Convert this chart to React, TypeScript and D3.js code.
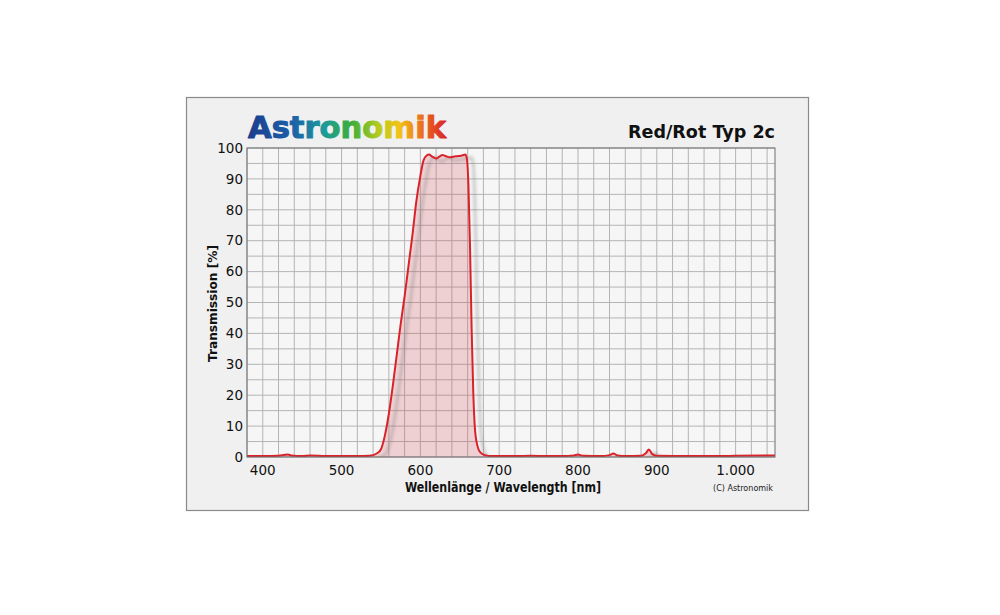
import React from "react";
import * as d3 from "d3";

const wavelengths = [380, 400, 420, 428, 432, 436, 450, 460, 480, 500, 520, 535, 540, 545, 550, 555, 560, 565, 570, 575, 580, 585, 590, 595, 600, 604, 608, 611, 615, 620, 624, 628, 632, 637, 642, 648, 653, 657, 659, 661, 663, 665, 667, 669, 672, 676, 682, 690, 700, 720, 740, 760, 780, 795, 800, 806, 830, 840, 845, 850, 860, 880, 886, 890, 894, 900, 940, 980, 1000, 1050];
const transmission = [0.3, 0.3, 0.4, 0.7, 0.8, 0.5, 0.3, 0.5, 0.3, 0.3, 0.3, 0.4, 0.6, 1.2, 2.5, 7, 14, 23, 33, 43, 52, 62, 72, 83, 91, 96, 97.6, 97.9, 97.2, 96.6, 97.2, 97.7, 97.4, 97, 97.2, 97.4, 97.6, 97.9, 96.5, 88, 68, 42, 22, 10, 4, 1.5, 0.6, 0.3, 0.3, 0.3, 0.4, 0.3, 0.3, 0.5, 0.8, 0.4, 0.3, 0.6, 1.1, 0.5, 0.3, 0.4, 1.2, 2.4, 1.0, 0.4, 0.3, 0.3, 0.4, 0.5];
const xTicks = [400, 500, 600, 700, 800, 900, 1000];
const xTickLabels = ["400", "500", "600", "700", "800", "900", "1.000"];
const yTicks = [0, 10, 20, 30, 40, 50, 60, 70, 80, 90, 100];

export default function App() {
  const W = 1000, H = 615;
  const left = 247, right = 775, top = 148, bottom = 457;
  const x = d3.scaleLinear().domain([380, 1050]).range([left, right]);
  const y = d3.scaleLinear().domain([0, 100]).range([bottom, top]);
  const pts: [number, number][] = wavelengths.map((w, i) => [w, transmission[i]]);
  const line = d3.line<[number, number]>().x(d => x(d[0])).y(d => y(d[1])).curve(d3.curveMonotoneX);
  const area = d3.area<[number, number]>().x(d => x(d[0])).y0(bottom).y1(d => y(d[1])).curve(d3.curveMonotoneX);
  const vGrid = d3.range(380, 1051, 20);
  const hGrid = d3.range(0, 101, 5);
  const font = "Tahoma, 'DejaVu Sans', Verdana, sans-serif";
  return (
    <svg width={W} height={H} style={{ position: "absolute", left: 0, top: 0, background: "#fff" }}>
      <defs>
        <linearGradient id="logo" x1="0" x2="1" y1="0" y2="0">
          <stop offset="0%" stopColor="#1b3d8c" />
          <stop offset="22%" stopColor="#1d5fa8" />
          <stop offset="38%" stopColor="#1a9a9c" />
          <stop offset="52%" stopColor="#3cae3a" />
          <stop offset="66%" stopColor="#b8cc1e" />
          <stop offset="76%" stopColor="#f2c316" />
          <stop offset="88%" stopColor="#ec6a1c" />
          <stop offset="100%" stopColor="#d8232a" />
        </linearGradient>
        <filter id="blur" x="-10%" y="-10%" width="120%" height="120%">
          <feGaussianBlur stdDeviation="1.5" />
        </filter>
        <clipPath id="plotclip">
          <rect x={left} y={top - 5} width={right - left} height={bottom - top + 5} />
        </clipPath>
      </defs>
      <rect x={186.5} y={97.5} width={622} height={413} fill="#f0f0f0" stroke="#8a8a8a" strokeWidth={1.2} />
      <rect x={left} y={top} width={right - left} height={bottom - top} fill="#f6f6f6" />
      {vGrid.map(v => (
        <line key={"v" + v} x1={x(v)} x2={x(v)} y1={top} y2={bottom} stroke="#b4b4b4" strokeWidth={1} />
      ))}
      {hGrid.map(v => (
        <line key={"h" + v} x1={left} x2={right} y1={y(v)} y2={y(v)} stroke="#b4b4b4" strokeWidth={1} />
      ))}
      <g clipPath="url(#plotclip)">
        <path d={area(pts) ?? ""} fill="rgba(215,60,70,0.2)" />
        <path d={line(pts) ?? ""} fill="none" stroke="rgba(120,120,120,0.35)" strokeWidth={3} transform="translate(6,3)" filter="url(#blur)" />
        <path d={line(pts) ?? ""} fill="none" stroke="#d9232b" strokeWidth={2} />
      </g>
      <rect x={left} y={top} width={right - left} height={bottom - top} fill="none" stroke="#6e6e6e" strokeWidth={1} />
      {yTicks.map(t => (
        <text key={"yt" + t} x={243} y={y(t)} dy="0.35em" textAnchor="end" fontFamily={font} fontSize={13.5} fill="#111">{t}</text>
      ))}
      {xTicks.map((t, i) => (
        <text key={"xt" + t} x={x(t)} y={470} dy="0.35em" textAnchor="middle" fontFamily={font} fontSize={13.5} fill="#111">{xTickLabels[i]}</text>
      ))}
      <text transform={`translate(217,${(top + bottom) / 2 + 1}) rotate(-90)`} textAnchor="middle" fontFamily={font} fontSize={12.5} fontWeight="bold" fill="#111" textLength={117} lengthAdjust="spacingAndGlyphs">Transmission [%]</text>
      <text x={503} y={492} textAnchor="middle" fontFamily={font} fontSize={14.5} fontWeight="bold" fill="#111" textLength={196} lengthAdjust="spacingAndGlyphs">Wellenlänge / Wavelength [nm]</text>
      <text x={773} y={491} textAnchor="end" fontFamily={font} fontSize={9} fill="#222" textLength={60} lengthAdjust="spacingAndGlyphs">(C) Astronomik</text>
      <text x={775} y={138} textAnchor="end" fontFamily={font} fontSize={17} fontWeight="bold" fill="#111" textLength={147} lengthAdjust="spacingAndGlyphs">Red/Rot Typ 2c</text>
      <text x={248} y={138} fontFamily="'DejaVu Sans', Verdana, sans-serif" fontSize={30} fontWeight="bold" fill="url(#logo)" stroke="url(#logo)" strokeWidth={1.0} strokeLinejoin="round" textLength={198} lengthAdjust="spacingAndGlyphs">Astronomik</text>
    </svg>
  );
}
